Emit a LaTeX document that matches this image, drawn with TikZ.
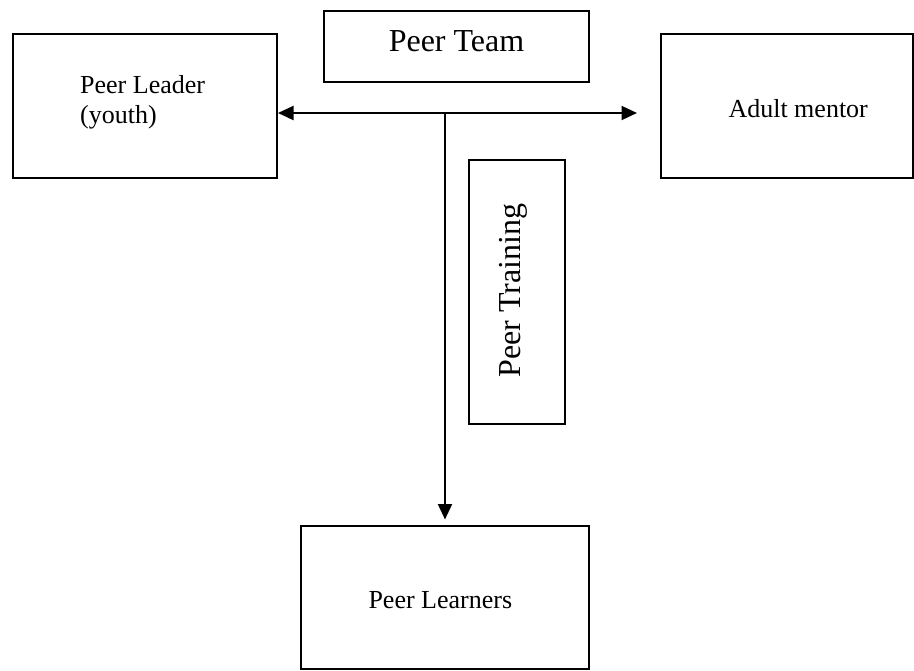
\documentclass[tikz,border=0pt]{standalone}
\usepackage{fontspec}
\setmainfont{Liberation Serif}
\usetikzlibrary{arrows.meta}
\tikzset{
  boxnode/.style={draw, line width=2pt, inner sep=0pt, minimum width=#1},
  smalltxt/.style={inner sep=0pt, font=\fontsize{26}{30}\selectfont},
  bigtxt/.style={inner sep=0pt, font=\fontsize{32}{36}\selectfont},
  conn/.style={line width=2pt, -{Triangle[length=15.5pt,width=14pt]}},
  dconn/.style={line width=2pt, {Triangle[length=15.5pt,width=14pt]}-{Triangle[length=15.5pt,width=14pt]}}
}
\begin{document}
\begin{tikzpicture}[x=1pt,y=-1pt]
\useasboundingbox[fill=white] (0,0) rectangle (914,671);
% boxes
\node[boxnode=264.5pt, minimum height=144pt] (leader) at (144.75,106) {};
\node[boxnode=264.5pt, minimum height=71pt] (team) at (456.35,46.2) {};
\node[boxnode=252.3pt, minimum height=144pt] (mentor) at (786.85,106) {};
\node[boxnode=96pt, minimum height=264pt] (training) at (517,292) {};
\node[boxnode=288pt, minimum height=143.5pt] (learners) at (445,597.5) {};
% texts
\node[smalltxt, anchor=base west] (leadertxt1) at (80,94) {Peer Leader};
\node[smalltxt, anchor=base west] (leadertxt2) at (80,124) {(youth)};
\node[bigtxt, anchor=base] (teamtxt) at (456.5,52) {Peer Team};
\node[smalltxt, anchor=base west] (mentortxt) at (728.3,118) {Adult mentor};
\node[bigtxt, anchor=base, rotate=90] (trainingtxt) at (520,290.5) {Peer Training};
\node[smalltxt, anchor=base west] (learnerstxt) at (368.3,608) {Peer Learners};
% connectors
\coordinate (j) at (445,113);
\coordinate (rt) at (637,113);
\coordinate (dn) at (445,519.5);
\draw[dconn] (j -| leader.east) -- (rt);
\draw[conn] (j) -- (dn);
\end{tikzpicture}
\end{document}
